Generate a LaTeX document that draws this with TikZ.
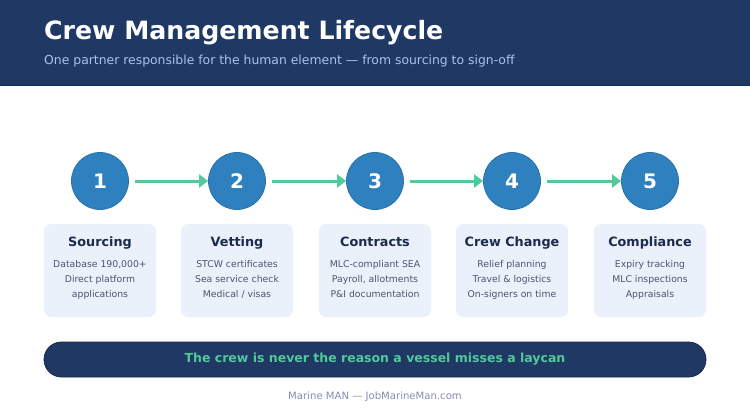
\documentclass[tikz,border=0pt]{standalone}
\usepackage{fontspec}
\setmainfont{DejaVu Sans}
\usepackage{xcolor}
\usetikzlibrary{arrows.meta, positioning}
\definecolor{navy}{HTML}{1F3864}
\definecolor{navyline}{HTML}{17294B}
\definecolor{stepblue}{HTML}{2E81BE}
\definecolor{stepedge}{HTML}{2872AC}
\definecolor{flowgreen}{HTML}{52C99A}
\definecolor{cardfill}{HTML}{EAF1FA}
\definecolor{cardtitle}{HTML}{1B2A4E}
\definecolor{cardtext}{HTML}{4A5670}
\definecolor{subblue}{HTML}{A8C4EA}
\definecolor{footgray}{HTML}{7F8FAF}
\tikzset{
  stepnum/.style={circle, minimum size=57pt, inner sep=0pt, fill=stepblue,
                  draw=stepedge, line width=0.8pt, text=white,
                  font=\bfseries\fontsize{20}{24}\selectfont},
  card/.style={rectangle, rounded corners=7pt, fill=cardfill, minimum width=112pt,
               minimum height=93pt, inner sep=0pt},
  cardhead/.style={font=\bfseries\fontsize{12.8}{15}\selectfont, text=cardtitle, inner sep=0pt},
  cardbody/.style={align=center, font=\fontsize{9.3}{15}\selectfont, text=cardtext, inner sep=0pt},
  flow/.style={-{Triangle[length=9pt, width=13pt]}, line width=3pt, draw=flowgreen,
               shorten <=6pt, shorten >=0pt},
}

\begin{document}
\begin{tikzpicture}[x=1pt, y=-1pt]
  \useasboundingbox (0,0) rectangle (750,420);
  % header
  \fill[navy] (0,0) rectangle (750,86);
  \draw[navyline, line width=1pt] (0,85.5) -- (750,85.5);
  \node[anchor=base west, inner sep=0pt, text=white,
        font=\bfseries\fontsize{25.2}{30}\selectfont] (title) at (44,40) {Crew Management Lifecycle};
  \node[anchor=base west, inner sep=0pt, text=subblue,
        font=\fontsize{12.4}{16}\selectfont] (sub) at (44,65)
        {One partner responsible for the human element — from sourcing to sign-off};

  % steps
  \node[stepnum] (s1) at (100,181) {1};
  \node[stepnum] (s2) at (237,181) {2};
  \node[stepnum] (s3) at (375,181) {3};
  \node[stepnum] (s4) at (512,181) {4};
  \node[stepnum] (s5) at (650,181) {5};
  \draw[flow] (s1) -- (s2); \draw[flow] (s2) -- (s3); \draw[flow] (s3) -- (s4);
  \draw[flow] (s4) -- (s5);

  % cards
  \node[card] (c1) at (100,270.5) {};
  \node[card] (c2) at (237,270.5) {};
  \node[card] (c3) at (375,270.5) {};
  \node[card] (c4) at (512,270.5) {};
  \node[card] (c5) at (650,270.5) {};
  \node[cardhead, anchor=base] (h1) at (100,246) {Sourcing};
  \node[cardhead, anchor=base] (h2) at (237,246) {Vetting};
  \node[cardhead, anchor=base] (h3) at (375,246) {Contracts};
  \node[cardhead, anchor=base] (h4) at (512,246) {Crew Change};
  \node[cardhead, anchor=base] (h5) at (650,246) {Compliance};
  \node[cardbody, anchor=north] (b1) at (100,260) {Database 190,000+\\Direct platform\\applications};
  \node[cardbody, anchor=north] (b2) at (237,260) {STCW certificates\\Sea service check\\Medical / visas};
  \node[cardbody, anchor=north] (b3) at (375,260) {MLC-compliant SEA\\Payroll, allotments\\P\&I documentation};
  \node[cardbody, anchor=north] (b4) at (512,260) {Relief planning\\Travel \& logistics\\On-signers on time};
  \node[cardbody, anchor=north] (b5) at (650,260) {Expiry tracking\\MLC inspections\\Appraisals};

  % banner + footer
  \node[rectangle, rounded corners=17.5pt, fill=navy, draw=navyline, line width=0.8pt,
        minimum width=662pt, minimum height=35pt, text=flowgreen,
        font=\bfseries\fontsize{12.5}{16}\selectfont] (banner) at (375,359.5)
        {The crew is never the reason a vessel misses a laycan};
  \node[text=footgray, font=\fontsize{10.1}{12}\selectfont, anchor=base, inner sep=0pt]
        (foot) at (375,399) {Marine MAN — JobMarineMan.com};
\end{tikzpicture}
\end{document}
